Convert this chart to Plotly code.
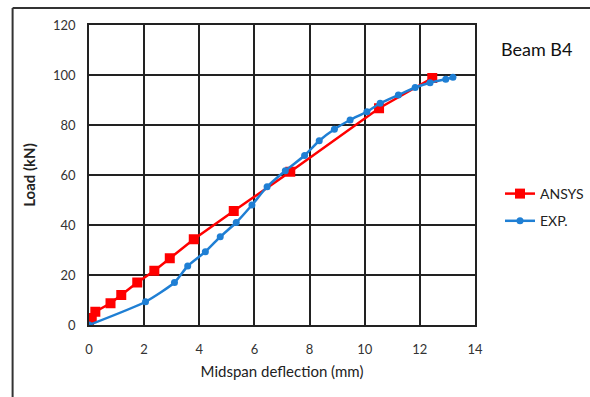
import plotly.graph_objects as go

ansys_x = [0, 0.1, 0.23, 0.78, 1.17, 1.75, 2.37, 2.93, 3.8, 5.25, 7.3, 10.52, 12.45]
ansys_y = [0, 2.8, 5.3, 8.7, 12, 17, 21.7, 26.7, 34.3, 45.6, 61.3, 86.7, 98.8]

exp_x = [0, 2.05, 3.1, 3.58, 4.22, 4.76, 5.34, 5.91, 6.46, 7.12, 7.82, 8.35, 8.9, 9.47,
         10.08, 10.56, 11.22, 11.83, 12.37, 12.94, 13.2]
exp_y = [0, 9.3, 17, 23.6, 29.3, 35.3, 41, 48, 55.3, 61.7, 67.8, 73.7, 78.3, 82,
         85.3, 88.7, 92, 95, 96.9, 98.3, 99.1]

x_ticks = [0, 2, 4, 6, 8, 10, 12, 14]
y_ticks = [0, 20, 40, 60, 80, 100, 120]

W, H = 590, 397
ML, MR, MT, MB = 88.5, 115, 25, 72
PW, PH = W - ML - MR, H - MT - MB

def px_to_paper_x(px):
    return (px - ML) / PW

def px_to_paper_y(py):
    return (H - MB - py) / PH

fig = go.Figure()
fig.add_trace(go.Scatter(
    x=ansys_x, y=ansys_y, mode="lines+markers", name="ANSYS", legendgroup="a",
    line=dict(color="#ff0000", width=2.5),
    marker=dict(symbol="square", size=10, color="#ff0000"),
))
fig.add_trace(go.Scatter(
    x=exp_x, y=exp_y, mode="lines+markers", name="EXP.", legendgroup="b",
    line=dict(color="#1f7fd4", width=2.5, shape="spline", smoothing=0.6),
    marker=dict(symbol="circle", size=7, color="#1f7fd4"),
))

font_fam = "Lato, 'Open Sans', Arial, sans-serif"

fig.update_layout(
    width=W, height=H,
    margin=dict(l=ML, r=MR, t=MT, b=MB, autoexpand=False),
    paper_bgcolor="white", plot_bgcolor="white",
    font=dict(family=font_fam, color="#222222", size=12),
    showlegend=True,
    legend=dict(
        xref="container", yref="container",
        x=500 / W, y=1 - 178 / H, xanchor="left", yanchor="top",
        bgcolor="rgba(0,0,0,0)", font=dict(size=14, color="#222222"),
        tracegroupgap=6,
    ),
    xaxis=dict(
        range=[0, 14], tickvals=x_ticks, showgrid=True, gridcolor="#222222", gridwidth=1.5,
        zeroline=False, showline=True, linecolor="#222222", linewidth=1.5, mirror=True,
        ticks="outside", ticklen=12, tickcolor="rgba(0,0,0,0)", tickfont=dict(size=13, color="#333333"),
        title=dict(text="Midspan deflection (mm)", font=dict(size=15, color="#222222"), standoff=10),
    ),
    yaxis=dict(
        range=[0, 120], tickvals=y_ticks, showgrid=True, gridcolor="#222222", gridwidth=1.5,
        zeroline=False, showline=True, linecolor="#222222", linewidth=1.5, mirror=True,
        ticks="outside", ticklen=9, tickcolor="rgba(0,0,0,0)", tickfont=dict(size=13, color="#333333"),
        title=dict(text="<b>Load (kN)</b>", font=dict(size=15, color="#222222"), standoff=14),
    ),
    annotations=[
        dict(text="Beam B4", x=px_to_paper_x(537), y=px_to_paper_y(49), xref="paper", yref="paper",
             showarrow=False, font=dict(size=18, color="#111111"), xanchor="center", yanchor="middle"),
    ],
    shapes=[
        dict(type="line", xref="paper", yref="paper",
             x0=px_to_paper_x(12), x1=px_to_paper_x(600), y0=px_to_paper_y(8), y1=px_to_paper_y(8),
             line=dict(color="#333333", width=2)),
        dict(type="line", xref="paper", yref="paper",
             x0=px_to_paper_x(12), x1=px_to_paper_x(12), y0=px_to_paper_y(8), y1=px_to_paper_y(400),
             line=dict(color="#333333", width=2)),
    ],
)

fig.write_html("out.html")
